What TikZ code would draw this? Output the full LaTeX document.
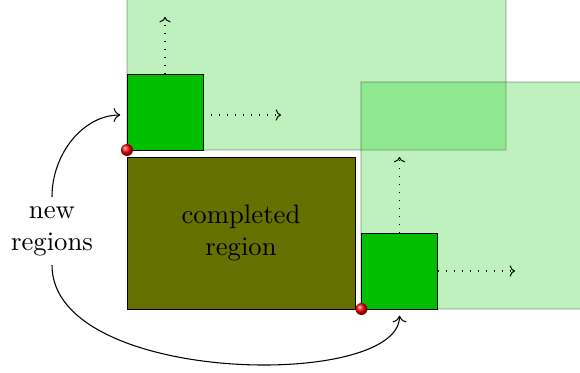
\documentclass[tikz,border=0pt]{standalone}
\usetikzlibrary{arrows.meta,shadings}
\definecolor{regfill}{RGB}{0,200,0}
\definecolor{sqfill}{RGB}{0,190,0}
\definecolor{donefill}{RGB}{102,112,0}
\tikzset{
  bigregion/.style={fill=regfill,fill opacity=0.25,draw=black,draw opacity=0.15},
  newsq/.style={draw=black,line width=0.3pt,fill=sqfill,minimum width=1cm,minimum height=1cm,inner sep=0pt,outer sep=0pt},
  donebox/.style={draw=black,line width=0.3pt,fill=donefill,minimum width=3cm,minimum height=2cm,inner sep=0pt,align=center},
  growarrow/.style={dash pattern=on 0.4pt off 2.6pt,-{To[length=2pt]}},
  linkarrow/.style={-{To[length=2.5pt]},shorten >=2.5pt},
}
\begin{document}
\begin{tikzpicture}[x=0.0131579cm,y=-0.0131579cm]
\useasboundingbox (0,0) rectangle (580,373);
\draw[bigregion] (127,-78) rectangle (506,150);
\draw[bigregion] (361,82) rectangle (741,309);
\node[donebox] (done) at (241,233) {completed\\region};
\node[newsq] (sqa) at (165,112) {};
\node[newsq] (sqb) at (399.5,271) {};
\coordinate (aup) at (165,17);
\coordinate (aright) at (281,115);
\coordinate (bup) at (399.5,157);
\coordinate (bright) at (515,271);
\draw[growarrow] (sqa.north) -- (aup);
\draw[growarrow] (sqa.east |- aright) -- (aright);
\draw[growarrow] (sqb.north) -- (bup);
\draw[growarrow] (sqb.east) -- (bright);
\shade[ball color=red] (sqa.south west) circle (6);
\shade[ball color=red] (sqb.south west) circle (6);
\node[align=center] (lbl) at (52,231) {new\\regions};
\draw[linkarrow] (lbl.north) to[out=90,in=180] (sqa.west |- aright);
\draw[linkarrow] (lbl.south) .. controls +(0,120) and +(0,81) .. (sqb.south);
\end{tikzpicture}
\end{document}
